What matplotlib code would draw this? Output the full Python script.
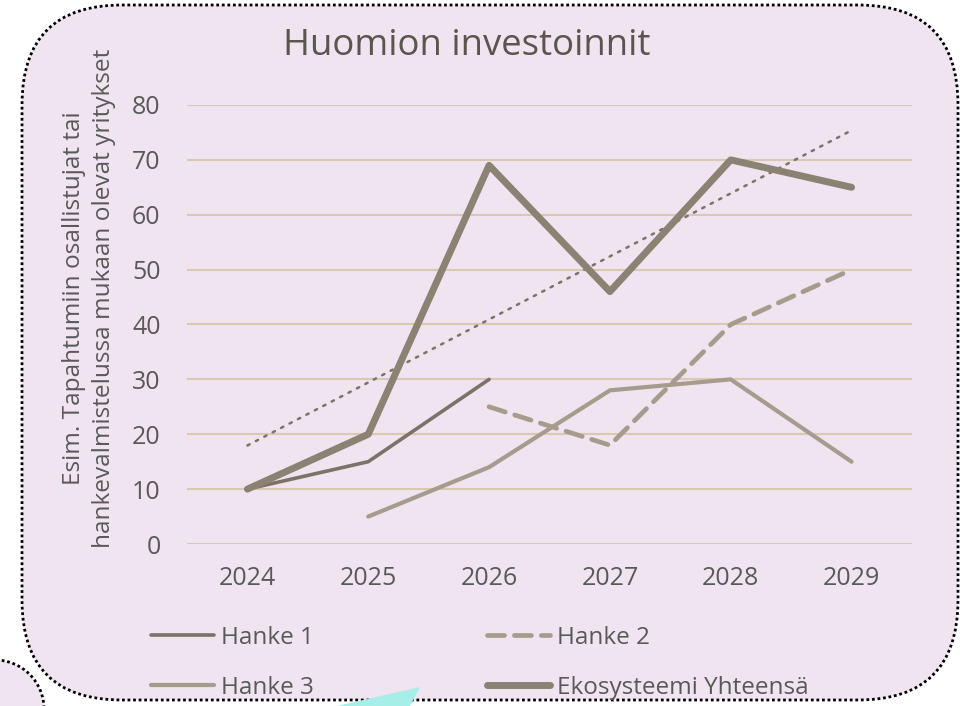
import numpy as np
import matplotlib.pyplot as plt
from matplotlib.patches import FancyBboxPatch, Circle, Polygon

plt.rcParams['font.family'] = ['Open Sans', 'DejaVu Sans']

# data
years = ['2024', '2025', '2026', '2027', '2028', '2029']
hanke1 = [10, 15, 30, None, None, None]
hanke2 = [None, None, 25, 18, 40, 50]
hanke3 = [None, 5, 14, 28, 30, 15]
ekosysteemi = [10, 20, 69, 46, 70, 65]
y_ticks = [0, 10, 20, 30, 40, 50, 60, 70, 80]

title = 'Huomion investoinnit'
y_label = 'Esim. Tapahtumiin osallistujat tai\nhankevalmistelussa mukaan olevat yritykset'

bg_col = '#F0E4F0'
text_col = '#595959'
grid_col = '#D9C9B3'
col_h1 = '#7C7268'
col_h23 = '#A69B8D'
col_eko = '#8B8273'

W, H = 960, 706
fig = plt.figure(figsize=(W / 100, H / 100), dpi=100)

# background shapes in pixel coords (y flipped)
bg = fig.add_axes([0, 0, 1, 1], zorder=0)
bg.set_xlim(0, W)
bg.set_ylim(0, H)
bg.axis('off')

small = Circle((-5, H - 709), 49, facecolor=bg_col, edgecolor='black',
               linestyle=(0, (1, 1)), linewidth=2)
bg.add_patch(small)
box = FancyBboxPatch((22, H - 700), 936, 695,
                     boxstyle='round,pad=0,rounding_size=100',
                     facecolor=bg_col, edgecolor='black',
                     linestyle=(0, (1, 1)), linewidth=2)
bg.add_patch(box)
tri = Polygon([(337, 0), (420, H - 687), (410, 0)], closed=True,
              facecolor='#A6EFE9', edgecolor='none', zorder=5)
bg.add_patch(tri)

bg.text(467, H - 46, title, ha='center', va='center', fontsize=26.3, color='#5A554F')
bg.text(89, H - 298, y_label, ha='center', va='center', rotation=90,
        fontsize=17.6, color=text_col, linespacing=1.33, multialignment='center')

# main chart
ax = fig.add_axes([187 / W, 1 - 544 / H, (912 - 187) / W, (544 - 105) / H], zorder=1)
ax.set_facecolor('none')
x = np.arange(len(years))


def series(vals):
    return np.array([np.nan if v is None else v for v in vals], dtype=float)


# linear trend of the total
coef = np.polyfit(x, ekosysteemi, 1)
ax.plot(x, np.polyval(coef, x), color=col_h1, linewidth=1.8,
        linestyle=(0, (1, 2.8)), dash_capstyle='round', zorder=2)

l_h1, = ax.plot(x, series(hanke1), color=col_h1, linewidth=2.6,
                solid_capstyle='round', solid_joinstyle='round', zorder=3)
l_h2, = ax.plot(x, series(hanke2), color=col_h23, linewidth=3.4,
                linestyle=(0, (3.6, 2.1)), dash_capstyle='round', zorder=3)
l_h3, = ax.plot(x, series(hanke3), color=col_h23, linewidth=3.0,
                solid_capstyle='round', solid_joinstyle='round', zorder=3)
l_eko, = ax.plot(x, series(ekosysteemi), color=col_eko, linewidth=5.0,
                 solid_capstyle='round', solid_joinstyle='round', zorder=4)

ax.set_xlim(-0.5, len(years) - 0.5)
ax.set_ylim(0, 80)
ax.set_xticks(x)
ax.set_xticklabels(years)
ax.set_yticks(y_ticks)
ax.tick_params(axis='both', length=0, labelsize=18, labelcolor=text_col)
ax.tick_params(axis='y', pad=19)
ax.tick_params(axis='x', pad=16)
ax.grid(axis='y', color=grid_col, linewidth=1.5)
ax.set_axisbelow(True)
for s in ax.spines.values():
    s.set_visible(False)

# legends, placed as in the reference
leg_kw = dict(loc='upper left', bbox_transform=bg.transData, frameon=False,
              fontsize=17.5, labelcolor=text_col, handlelength=2.6,
              handletextpad=0.3, labelspacing=1.05, borderpad=0, borderaxespad=0)
leg1 = ax.legend([l_h1, l_h3], ['Hanke 1', 'Hanke 3'],
                 bbox_to_anchor=(151, H - 626), **leg_kw)
ax.add_artist(leg1)
ax.legend([l_h2, l_eko], ['Hanke 2', 'Ekosysteemi Yhteensä'],
          bbox_to_anchor=(487, H - 626), **leg_kw)

fig.savefig('out.png', dpi=100)
